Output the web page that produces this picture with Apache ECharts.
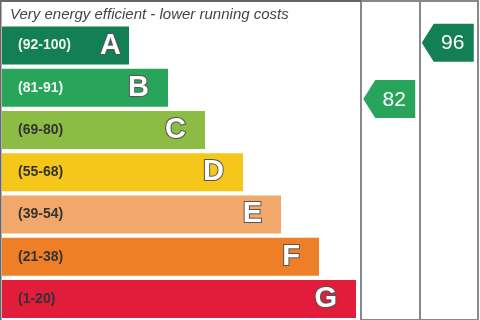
<!DOCTYPE html>
<html>
<head>
<meta charset="utf-8">
<script src="https://cdn.jsdelivr.net/npm/echarts@6/dist/echarts.min.js"></script>
<style>
  html, body { margin: 0; padding: 0; background: #fff; }
  #chart { width: 480px; height: 320px; }
</style>
</head>
<body>
<div id="chart"></div>
<script>
// energy bands, top (best) to bottom
var bands = ['A', 'B', 'C', 'D', 'E', 'F', 'G'];
var ranges = ['(92-100)', '(81-91)', '(69-80)', '(55-68)', '(39-54)', '(21-38)', '(1-20)'];
var rangeLow = [92, 81, 69, 55, 39, 21, 1];
var barLength = [127, 166, 203, 241, 279, 317, 354];
var bandColors = ['#127f55', '#29a55b', '#8cbc43', '#f4c71a', '#f2a76b', '#ee7f27', '#e21c3b'];

// ratings columns: Current, Potential
var columns = ['Current', 'Potential'];
var ratings = [82, 96];

function bandOf(score) {
    for (var i = 0; i < rangeLow.length; i++) {
        if (score >= rangeLow[i]) return i;
    }
    return rangeLow.length - 1;
}

var chart = echarts.init(document.getElementById('chart'), null, { renderer: 'canvas' });

var option = {
    animation: false,
    title: {
        text: 'Very energy efficient - lower running costs',
        left: 5,
        top: 2,
        textStyle: {
            fontFamily: 'Liberation Sans, Arial, sans-serif',
            fontStyle: 'italic',
            fontWeight: 'normal',
            fontSize: 15,
            color: '#444'
        }
    },
    graphic: [
        {
            type: 'polyline',
            shape: { points: [[0.5, 330], [0.5, 1], [361, 1]] },
            style: { stroke: '#666', lineWidth: 2, fill: null },
            z: 10
        }
    ],
    grid: [
        { left: 2, width: 359, top: 24.5, height: 301 },
        {
            left: 361, right: 2, top: 1, height: 324.5,
            show: true, borderColor: '#888', borderWidth: 2
        }
    ],
    xAxis: [
        { gridIndex: 0, type: 'value', min: 0, max: 359, show: false },
        {
            gridIndex: 1, type: 'value', min: 0, max: columns.length, interval: 1,
            axisLine: { show: false }, axisTick: { show: false }, axisLabel: { show: false },
            splitLine: { show: true, lineStyle: { color: '#888', width: 2 } }
        }
    ],
    yAxis: [
        { gridIndex: 0, type: 'category', data: bands, inverse: true, show: false },
        {
            gridIndex: 1, type: 'value', min: 27.19, max: 106.34,
            axisLine: { show: false }, axisTick: { show: false }, axisLabel: { show: false },
            splitLine: { show: false }
        }
    ],
    series: [
        {
            type: 'bar',
            xAxisIndex: 0, yAxisIndex: 0,
            barWidth: 38,
            data: barLength.map(function (v, i) {
                return {
                    value: v,
                    itemStyle: { color: bandColors[i] },
                    label: { distance: i === 0 ? 8 : 19 }
                };
            }),
            label: {
                show: true,
                position: 'insideRight',
                formatter: function (p) { return bands[p.dataIndex]; },
                fontFamily: 'Liberation Sans, Arial, sans-serif',
                fontWeight: 'bold',
                fontSize: 29,
                color: '#fff',
                textBorderColor: '#555',
                textBorderWidth: 2
            }
        },
        {
            type: 'bar',
            xAxisIndex: 0, yAxisIndex: 0,
            barWidth: 38,
            barGap: '-100%',
            silent: true,
            data: barLength.map(function (v, i) {
                return {
                    value: v,
                    itemStyle: { color: 'rgba(0,0,0,0)' },
                    label: { color: i < 2 ? '#eef5ee' : '#333' }
                };
            }),
            label: {
                show: true,
                position: 'insideLeft',
                distance: 16,
                formatter: function (p) { return ranges[p.dataIndex]; },
                fontFamily: 'Liberation Sans, Arial, sans-serif',
                fontWeight: 'bold',
                fontSize: 14
            }
        },
        {
            type: 'custom',
            xAxisIndex: 1, yAxisIndex: 1,
            data: ratings.map(function (r, i) { return [i + 0.5, r]; }),
            renderItem: function (params, api) {
                var c = api.coord([api.value(0), api.value(1)]);
                var cx = c[0], cy = c[1];
                var h = 19;
                var col = bandColors[bandOf(api.value(1))];
                return {
                    type: 'group',
                    children: [
                        {
                            type: 'polygon',
                            shape: {
                                points: [
                                    [cx - 27, cy], [cx - 15, cy - h], [cx + 25, cy - h],
                                    [cx + 25, cy + h], [cx - 15, cy + h]
                                ]
                            },
                            style: { fill: col }
                        },
                        {
                            type: 'text',
                            style: {
                                text: String(api.value(1)),
                                x: cx + 4, y: cy + 1,
                                align: 'center', verticalAlign: 'middle',
                                fill: '#fff',
                                font: '21px "Liberation Sans", Arial, sans-serif'
                            }
                        }
                    ]
                };
            }
        }
    ]
};

chart.setOption(option);
</script>
</body>
</html>
